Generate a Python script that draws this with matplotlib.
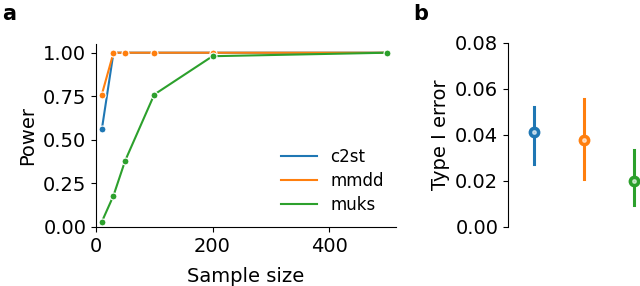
import matplotlib.pyplot as plt
import numpy as np

# power vs sample size
sample_sizes = [10, 30, 50, 100, 200, 500]
c2st_power = [0.56, 1.0, 1.0, 1.0, 1.0, 1.0]
mmdd_power = [0.76, 1.0, 1.0, 1.0, 1.0, 1.0]
muks_power = [0.03, 0.18, 0.38, 0.76, 0.98, 1.0]

# type I error (mean, low, high)
methods = ['c2st', 'mmdd', 'muks']
err_mean = [0.0415, 0.038, 0.020]
err_low = [0.0275, 0.021, 0.0095]
err_high = [0.052, 0.0555, 0.0335]

colors = ['#1f77b4', '#ff7f0e', '#2ca02c']
plt.rcParams['font.size'] = 14

fig = plt.figure(figsize=(6.4, 2.86), dpi=100)
ax = fig.add_axes([96/640, 1 - 227/286, 300/640, 183/286])
bx = fig.add_axes([508/640, 1 - 227/286, 132/640, 184/286])

for vals, c, name in zip([c2st_power, mmdd_power, muks_power], colors, methods):
    ax.plot(sample_sizes, vals, color=c, lw=1.5, marker='o', ms=5,
            mec='white', mew=0.8, label=name, clip_on=False)
ax.set_xlim(0, 515)
ax.set_ylim(0, 1.05)
ax.set_xticks([0, 200, 400])
ax.set_yticks([0, 0.25, 0.5, 0.75, 1.0])
ax.set_yticklabels(['0.00', '0.25', '0.50', '0.75', '1.00'])
ax.set_xlabel('Sample size', labelpad=8)
ax.set_ylabel('Power')
ax.spines[['top', 'right']].set_visible(False)
leg = ax.legend(frameon=False, loc='lower right', fontsize=12,
                bbox_to_anchor=(1.01, -0.01), handlelength=2.2, labelspacing=0.35)
for h in leg.legend_handles:
    h.set_marker('')

xs = np.arange(len(methods))
for i in range(len(methods)):
    bx.plot([xs[i], xs[i]], [err_low[i], err_high[i]], color=colors[i], lw=2.2)
    bx.plot(xs[i], err_mean[i], marker='o', ms=7, color=colors[i],
            mfc=colors[i], mec=colors[i], mew=1.5, clip_on=False)
    bx.plot(xs[i], err_mean[i], marker='o', ms=2.5, color='white', alpha=0.6)
bx.set_xlim(-0.52, 2.12)
bx.set_ylim(0, 0.08)
bx.set_yticks([0, 0.02, 0.04, 0.06, 0.08])
bx.set_yticklabels(['0.00', '0.02', '0.04', '0.06', '0.08'])
bx.set_xticks([])
bx.set_ylabel('Type I error')
bx.spines[['top', 'right', 'bottom']].set_visible(False)

fig.text(2/640, 1 - 14/286, 'a', fontsize=15, fontweight='bold', va='center')
fig.text(413/640, 1 - 14/286, 'b', fontsize=15, fontweight='bold', va='center')

fig.savefig('out.png', dpi=100)
